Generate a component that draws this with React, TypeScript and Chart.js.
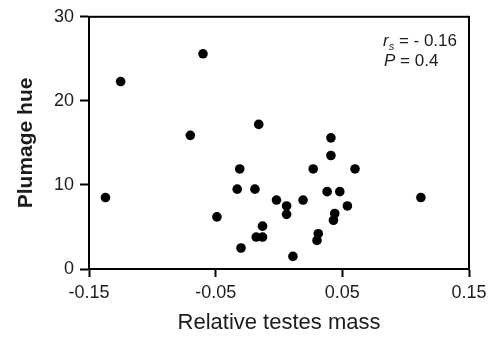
import React, { useEffect, useRef } from "react";
import { Chart, registerables } from "chart.js";

Chart.register(...registerables);

const xValues = [
  -0.137, -0.125, -0.06, -0.07, -0.031, -0.016, 0.041, 0.041, 0.027, 0.06,
  -0.033, -0.019, -0.049, -0.002, 0.006, 0.006, 0.019, 0.038, 0.048, 0.054,
  0.044, 0.043, 0.112, -0.013, -0.018, -0.013, -0.03, 0.011, 0.031, 0.03,
];
const yValues = [
  8.5, 22.3, 25.6, 15.9, 11.9, 17.2, 15.6, 13.5, 11.9, 11.9,
  9.5, 9.5, 6.2, 8.2, 7.5, 6.5, 8.2, 9.2, 9.2, 7.5,
  6.6, 5.8, 8.5, 5.1, 3.8, 3.8, 2.5, 1.5, 4.2, 3.4,
];
const xTicks = [-0.15, -0.05, 0.05, 0.15];
const xTickLabels = ["-0.15", "-0.05", "0.05", "0.15"];
const yTicks = [0, 10, 20, 30];
const yTickLabels = ["0", "10", "20", "30"];
const xTitle = "Relative testes mass";
const yTitle = "Plumage hue";
const statR = "- 0.16";
const statP = "0.4";

const FONT = "'Liberation Sans', Arial, Helvetica, sans-serif";
const TEXT = "#1c1c1c";

const framePlugin = {
  id: "frameAndStats",
  afterDraw(chart: any) {
    const { ctx, chartArea } = chart;
    const { left, right, top, bottom } = chartArea;
    ctx.save();
    ctx.strokeStyle = "#000";
    ctx.lineWidth = 2;
    ctx.strokeRect(left, top, right - left, bottom - top);

    ctx.fillStyle = TEXT;
    ctx.textBaseline = "alphabetic";
    ctx.textAlign = "left";
    let x = 383;
    const y1 = 45.5;
    ctx.font = `italic 17px ${FONT}`;
    ctx.fillText("r", x, y1);
    x += ctx.measureText("r").width;
    ctx.font = `italic 11px ${FONT}`;
    ctx.fillText("s", x, y1 + 4);
    x += ctx.measureText("s").width;
    ctx.font = `17px ${FONT}`;
    ctx.fillText(" = " + statR, x, y1);

    const y2 = 65.5;
    x = 384;
    ctx.font = `italic 17px ${FONT}`;
    ctx.fillText("P", x, y2);
    x += ctx.measureText("P").width;
    ctx.font = `17px ${FONT}`;
    ctx.fillText(" = " + statP, x, y2);
    ctx.restore();
  },
};

export default function App() {
  const ref = useRef<HTMLCanvasElement | null>(null);

  useEffect(() => {
    document.body.style.margin = "0";
    const canvas = ref.current;
    if (!canvas) return;
    const data = xValues.map((x, i) => ({ x, y: yValues[i] }));
    const chart = new Chart(canvas, {
      type: "scatter",
      data: {
        datasets: [
          {
            data,
            backgroundColor: "#000",
            borderWidth: 0,
            pointRadius: 4.8,
            pointHoverRadius: 4.8,
          },
        ],
      },
      options: {
        responsive: false,
        animation: false,
        devicePixelRatio: 1,
        layout: { padding: { left: 0, right: 26, top: 16, bottom: 0 } },
        plugins: {
          legend: { display: false },
          tooltip: { enabled: false },
        },
        scales: {
          x: {
            type: "linear",
            min: -0.15,
            max: 0.15,
            afterBuildTicks: (scale: any) => {
              scale.ticks = xTicks.map((v) => ({ value: v }));
            },
            afterFit: (scale: any) => {
              scale.height = 68;
            },
            grid: {
              drawOnChartArea: false,
              drawTicks: true,
              tickLength: 8,
              tickColor: "#000",
              tickWidth: 2,
            },
            border: { display: true, color: "#000", width: 2 },
            ticks: {
              padding: 5,
              color: TEXT,
              font: { family: FONT, size: 18 },
              maxRotation: 0,
              callback: (v: any) => {
                const i = xTicks.findIndex((t) => Math.abs(t - Number(v)) < 1e-9);
                return i >= 0 ? xTickLabels[i] : "";
              },
            },
            title: {
              display: true,
              text: xTitle,
              color: TEXT,
              font: { family: FONT, size: 22, lineHeight: 1 },
              padding: { top: 0, bottom: 3 },
            },
          },
          y: {
            type: "linear",
            min: 0,
            max: 30,
            afterBuildTicks: (scale: any) => {
              scale.ticks = yTicks.map((v) => ({ value: v }));
            },
            afterFit: (scale: any) => {
              scale.width = 89;
            },
            grid: {
              drawOnChartArea: false,
              drawTicks: true,
              tickLength: 9,
              tickColor: "#000",
              tickWidth: 2,
            },
            border: { display: true, color: "#000", width: 2 },
            ticks: {
              padding: 6,
              color: TEXT,
              font: { family: FONT, size: 18 },
              callback: (v: any) => {
                const i = yTicks.findIndex((t) => Math.abs(t - Number(v)) < 1e-9);
                return i >= 0 ? yTickLabels[i] : "";
              },
            },
            title: {
              display: true,
              text: yTitle,
              color: TEXT,
              font: { family: FONT, size: 21, weight: "bold", lineHeight: 1 },
              padding: { top: 16, bottom: 0 },
            },
          },
        },
      },
      plugins: [framePlugin],
    });
    return () => chart.destroy();
  }, []);

  return (
    <div style={{ position: "fixed", left: 0, top: 0, width: 495, height: 337, background: "#fff" }}>
      <canvas ref={ref} width={495} height={337} />
    </div>
  );
}
